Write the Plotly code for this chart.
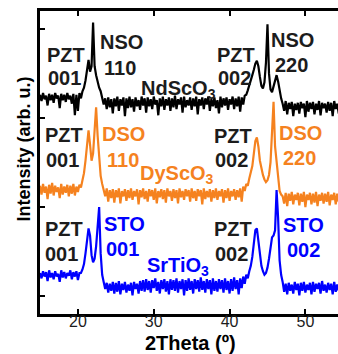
import numpy as np
import plotly.graph_objects as go

# 2theta scan, 0.2 deg step from 15 to 55 deg
two_theta = np.round(np.arange(15.0, 55.0001, 0.2), 1)

# Intensities (arb. u.), stacked with vertical offsets for each substrate
srtio3 = [
    26, 20, 28, 22, 27, 17, 29, 21, 26, 19,
    28, 22, 25, 16, 29, 21, 27, 20, 26, 23,
    29, 19, 27, 22, 28, 18, 26, 26, 30, 36,
    48, 66, 76, 68, 46, 38, 42, 56, 78, 100,
    48, 24, 16, 8, 15, 4, 14, 6, 16, 3,
    15, 5, 17, 2, 14, 7, 16, 4, 13, 6,
    15, 1, 16, 8, 14, 3, 17, 6, 18, 5,
    19, 7, 17, 4, 18, 9, 20, 6, 16, 3,
    18, 8, 19, 5, 17, 2, 19, 7, 18, 6,
    20, 4, 17, 8, 19, 1, 18, 6, 20, 7,
    17, 3, 19, 8, 18, 5, 21, 7, 17, 4,
    19, 8, 18, 2, 20, 6, 17, 5, 19, 8,
    18, 4, 20, 7, 17, 3, 19, 6, 21, 8,
    18, 2, 20, 9, 22, 14, 24, 20, 28, 34,
    44, 60, 74, 76, 62, 46, 34, 28, 24, 26,
    32, 42, 56, 66, 68, 74, 119, 88, 40, 24,
    16, 5, 14, 2, 15, 6, 13, 3, 16, 7,
    14, 1, 15, 6, 16, 4, 13, 7, 15, 2,
    16, 5, 14, 8, 15, 3, 17, 6, 13, 4,
    15, 7, 14, 2, 16, 5, 13, 6, 15, 4, 14,
]

dyscO3 = [
    124, 114, 126, 116, 123, 109, 125, 115, 127, 113,
    124, 117, 122, 110, 126, 114, 123, 116, 125, 112,
    124, 115, 126, 113, 123, 117, 125, 122, 130, 138,
    152, 172, 186, 170, 152, 160, 188, 212, 180, 150,
    135, 126, 120, 112, 121, 106, 119, 110, 120, 105,
    119, 111, 121, 104, 118, 112, 120, 107, 119, 110,
    121, 108, 118, 112, 120, 103, 119, 111, 121, 109,
    118, 106, 120, 112, 119, 108, 121, 104, 118, 111,
    120, 109, 119, 105, 121, 112, 118, 107, 120, 110,
    119, 104, 121, 111, 118, 108, 120, 112, 119, 106,
    121, 110, 118, 107, 120, 112, 119, 103, 121, 109,
    118, 111, 120, 106, 119, 110, 121, 108, 118, 112,
    120, 105, 119, 110, 121, 107, 118, 112, 120, 108,
    119, 111, 121, 106, 123, 118, 126, 124, 132, 138,
    146, 160, 174, 178, 168, 152, 142, 136, 131, 128,
    130, 136, 150, 178, 218, 168, 148, 130, 118, 114,
    112, 104, 116, 101, 115, 107, 117, 103, 114, 108,
    116, 102, 115, 106, 117, 100, 114, 108, 116, 103,
    115, 105, 117, 101, 114, 107, 116, 104, 115, 106,
    117, 102, 114, 108, 116, 103, 115, 106, 117, 101, 115,
]

ndsco3 = [
    226, 219, 228, 221, 225, 214, 227, 220, 226, 217,
    228, 222, 225, 211, 227, 220, 226, 218, 228, 221,
    225, 216, 227, 203, 226, 208, 228, 222, 230, 234,
    242, 256, 265, 252, 258, 307, 258, 248, 240, 234,
    230, 224, 215, 222, 210, 223, 212, 221, 205, 222,
    213, 224, 208, 221, 214, 223, 202, 222, 211, 224,
    212, 221, 207, 223, 213, 220, 209, 224, 214, 222,
    206, 223, 213, 221, 210, 224, 215, 220, 203, 222,
    213, 224, 209, 221, 214, 223, 208, 222, 212, 225,
    210, 221, 215, 223, 206, 224, 212, 220, 214, 223,
    209, 222, 213, 224, 204, 221, 214, 223, 210, 222,
    215, 224, 208, 221, 213, 223, 211, 220, 205, 224,
    212, 222, 214, 223, 209, 221, 215, 224, 210, 222,
    213, 224, 207, 223, 215, 225, 226, 231, 236, 242,
    248, 254, 261, 264, 258, 246, 236, 233, 240, 262,
    305, 250, 232, 229, 236, 244, 248, 241, 230, 222,
    216, 208, 219, 204, 217, 210, 218, 202, 216, 209,
    217, 205, 218, 211, 216, 201, 219, 207, 217, 210,
    218, 204, 216, 209, 219, 203, 217, 211, 216, 206,
    218, 208, 217, 202, 219, 210, 216, 205, 218, 209, 217,
]

x_ticks = [20, 30, 40, 50]
y_ticks = [0, 100, 200, 300]

BLACK = "#000000"
TEXT_DARK = "#1c1c1c"
ORANGE = "#f5821f"
BLUE = "#0000ff"

fig = go.Figure()
for name, values, color in [
    ("NdScO3", ndsco3, BLACK),
    ("DyScO3", dyscO3, ORANGE),
    ("SrTiO3", srtio3, BLUE),
]:
    fig.add_trace(go.Scatter(
        x=two_theta, y=values, mode="lines", name=name,
        line=dict(color=color, width=2.2), showlegend=False,
        hoverinfo="skip",
    ))

LABEL_FONT = "Liberation Sans, Arial, sans-serif"

# (text, 2theta, intensity, colour) for the peak and substrate labels
labels = [
    ("PZT", 18.4, 271, TEXT_DARK), ("001", 18.2, 245, TEXT_DARK),
    ("NSO", 25.7, 285, TEXT_DARK), ("110", 25.6, 256, TEXT_DARK),
    ("NdScO<sub>3</sub>", 33.2, 232, TEXT_DARK),
    ("PZT", 40.8, 271, TEXT_DARK), ("002", 40.6, 245, TEXT_DARK),
    ("NSO", 48.3, 288, TEXT_DARK), ("220", 48.2, 259, TEXT_DARK),

    ("PZT", 18.2, 181, TEXT_DARK), ("001", 18.0, 153, TEXT_DARK),
    ("DSO", 26.0, 182, ORANGE), ("110", 25.9, 153, ORANGE),
    ("DyScO<sub>3</sub>", 33.1, 137, ORANGE),
    ("PZT", 40.4, 180, TEXT_DARK), ("002", 40.2, 153, TEXT_DARK),
    ("DSO", 49.3, 183, ORANGE), ("220", 49.2, 155, ORANGE),

    ("PZT", 18.1, 75, TEXT_DARK), ("001", 17.9, 47, TEXT_DARK),
    ("STO", 26.1, 81, BLUE), ("001", 25.9, 53, BLUE),
    ("SrTiO<sub>3</sub>", 33.2, 33, BLUE),
    ("PZT", 40.4, 75, TEXT_DARK), ("002", 40.2, 47, TEXT_DARK),
    ("STO", 49.8, 80, BLUE), ("002", 49.7, 52, BLUE),
]

annotations = [
    dict(x=x, y=y, xref="x", yref="y", text=t, showarrow=False,
         xanchor="center", yanchor="middle",
         font=dict(family=LABEL_FONT, size=20, color=c, weight="bold"))
    for t, x, y, c in labels
]

annotations += [
    dict(x=0.505, y=-0.097, xref="paper", yref="paper",
         text="2Theta (\u00ba)", showarrow=False,
         xanchor="center", yanchor="middle",
         font=dict(family=LABEL_FONT, size=20, color=BLACK, weight="bold")),
    dict(x=-0.055, y=0.545, xref="paper", yref="paper",
         text="Intensity (arb. u.)", showarrow=False, textangle=-90,
         xanchor="center", yanchor="middle",
         font=dict(family=LABEL_FONT, size=18, color=BLACK, weight="bold")),
]

fig.update_layout(
    width=338, height=354,
    margin=dict(l=40, r=0, t=11, b=40),
    paper_bgcolor="white", plot_bgcolor="white",
    annotations=annotations,
    xaxis=dict(
        range=[15, 54.3], tickvals=x_ticks, ticks="inside", ticklen=5,
        tickwidth=2, tickcolor=BLACK, showline=True, linewidth=3,
        linecolor=BLACK, mirror="ticks", showgrid=False, zeroline=False,
        ticklabelstandoff=-9,
        tickfont=dict(family=LABEL_FONT, size=16, color=TEXT_DARK),
    ),
    yaxis=dict(
        range=[-20, 320], tickvals=y_ticks, ticks="inside", ticklen=5,
        tickwidth=2, tickcolor=BLACK, showline=True, linewidth=3,
        linecolor=BLACK, mirror=False, showgrid=False, zeroline=False,
        showticklabels=False,
    ),
)

fig.write_html("out.html")
